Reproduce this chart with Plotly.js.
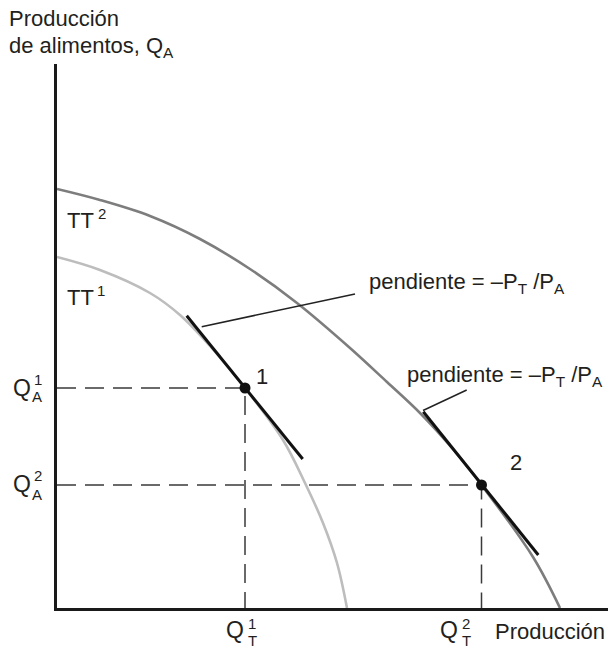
<!DOCTYPE html>
<html><head><meta charset="utf-8">
<script src="https://cdn.plot.ly/plotly-3.0.1.min.js"></script>
<style>html,body{margin:0;padding:0;background:#fff}</style>
</head><body><div id="chart" style="width:612px;height:652px"></div>
<script>
// Curves (units: abstract output quantities)
const tt2X = [0, 43, 93, 143, 193, 240, 293, 330, 363, 395, 424.5, 476, 503];
const tt2Y = [419, 408, 392, 369, 339, 305, 260, 226, 195, 160, 123, 51, 0];
const tt1X = [0, 43, 93, 123, 153, 188, 226, 248, 266, 280, 290];
const tt1Y = [351, 338, 315, 293, 262, 220, 168, 125, 85, 45, 0];
// Tangent (price) lines
const tangent1X = [129.7, 245.7];
const tangent1Y = [292.3, 149];
const tangent2X = [366.3, 481.3];
const tangent2Y = [196.3, 53];
// Leader lines for the slope labels
const leader1X = [144.7, 298];
const leader1Y = [281.3, 314];
const leader2X = [366, 409.7];
const leader2Y = [197.5, 218];
// Production points 1 and 2
const pointX = [188, 424.5];
const pointY = [220, 123];
const pointLabels = ['1', '2'];
const slopeLabel = 'pendiente = \u2013P<sub>T</sub> /P<sub>A</sub>';
const yTitleLines = ['Producci\u00f3n', 'de alimentos, Q<sub>A</sub>'];
const xTitle = 'Producci\u00f3n';

const TXT = '#231f20';
const FAM = 'Liberation Sans, Arial, sans-serif';
const PL = 57, PB = 608, PW = 551, PH = 544; // plot-area pixel box, for label placement only
function lab(text, px, py, size, xanchor) {
  return {x: (px - PL) / PW, y: (PB - py) / PH, xref: 'paper', yref: 'paper', text: text,
    showarrow: false, xanchor: xanchor || 'center', yanchor: 'middle',
    font: {family: FAM, size: size, color: TXT}};
}
function line(x, y, color, width, dash) {
  return {x: x, y: y, type: 'scatter', mode: 'lines', cliponaxis: false, hoverinfo: 'skip',
    line: {color: color, width: width, dash: dash || 'solid', shape: 'linear'}};
}

const tt1 = line(tt1X, tt1Y, '#bdbdbd', 2.6); tt1.line.shape = 'spline';
const tt2 = line(tt2X, tt2Y, '#7d7d7d', 2.6); tt2.line.shape = 'spline';
const dash1 = line([0, pointX[0], pointX[0]], [pointY[0], pointY[0], 0], '#3a3a3a', 1.5, '19px,9px');
const dash2 = line([0, pointX[1], pointX[1]], [pointY[1], pointY[1], 0], '#3a3a3a', 1.5, '19px,9px');
const tg1 = line(tangent1X, tangent1Y, '#111', 3);
const tg2 = line(tangent2X, tangent2Y, '#111', 3);
const ld1 = line(leader1X, leader1Y, '#222', 1.5);
const ld2 = line(leader2X, leader2Y, '#222', 1.5);
const pts = {x: pointX, y: pointY, type: 'scatter', mode: 'markers', cliponaxis: false,
  marker: {color: '#111', size: 11}, hoverinfo: 'skip'};

const annotations = [
  lab(yTitleLines[0], 7, 19, 22, 'left'),
  lab(yTitleLines[1], 7, 47, 22, 'left'),
  lab(xTitle, 493, 631, 22, 'left'),
  lab(slopeLabel, 367, 283, 22, 'left'),
  lab(slopeLabel, 405, 376, 22, 'left'),
  lab(pointLabels[0], 262, 376, 22),
  lab(pointLabels[1], 516, 462, 22),
  lab('TT', 65, 220, 22, 'left'), lab('2', 102, 213, 15),
  lab('TT', 65, 297, 22, 'left'), lab('1', 101, 290, 15),
  lab('Q', 22, 388, 23), lab('1', 38, 379, 15), lab('A', 37, 397, 15),
  lab('Q', 22, 484, 23), lab('2', 38, 475, 15), lab('A', 37, 494, 15),
  lab('Q', 235, 630, 23), lab('1', 252, 623, 15), lab('T', 252, 640, 15),
  lab('Q', 449, 630, 23), lab('2', 466, 623, 15), lab('T', 466, 640, 15)
];

const layout = {
  width: 612, height: 652,
  margin: {l: 57, r: 4, t: 64, b: 44, pad: 0},
  paper_bgcolor: '#fff', plot_bgcolor: '#fff',
  showlegend: false,
  xaxis: {range: [0, 551], showgrid: false, zeroline: false, showticklabels: false, ticks: '',
    showline: true, linecolor: '#1a1a1a', linewidth: 3, fixedrange: true},
  yaxis: {range: [0, 544], showgrid: false, zeroline: false, showticklabels: false, ticks: '',
    showline: true, linecolor: '#1a1a1a', linewidth: 3, fixedrange: true},
  annotations: annotations
};
Plotly.newPlot('chart', [dash1, dash2, tt1, tt2, ld1, ld2, tg1, tg2, pts], layout,
  {staticPlot: true, displayModeBar: false});
</script>
</body></html>
